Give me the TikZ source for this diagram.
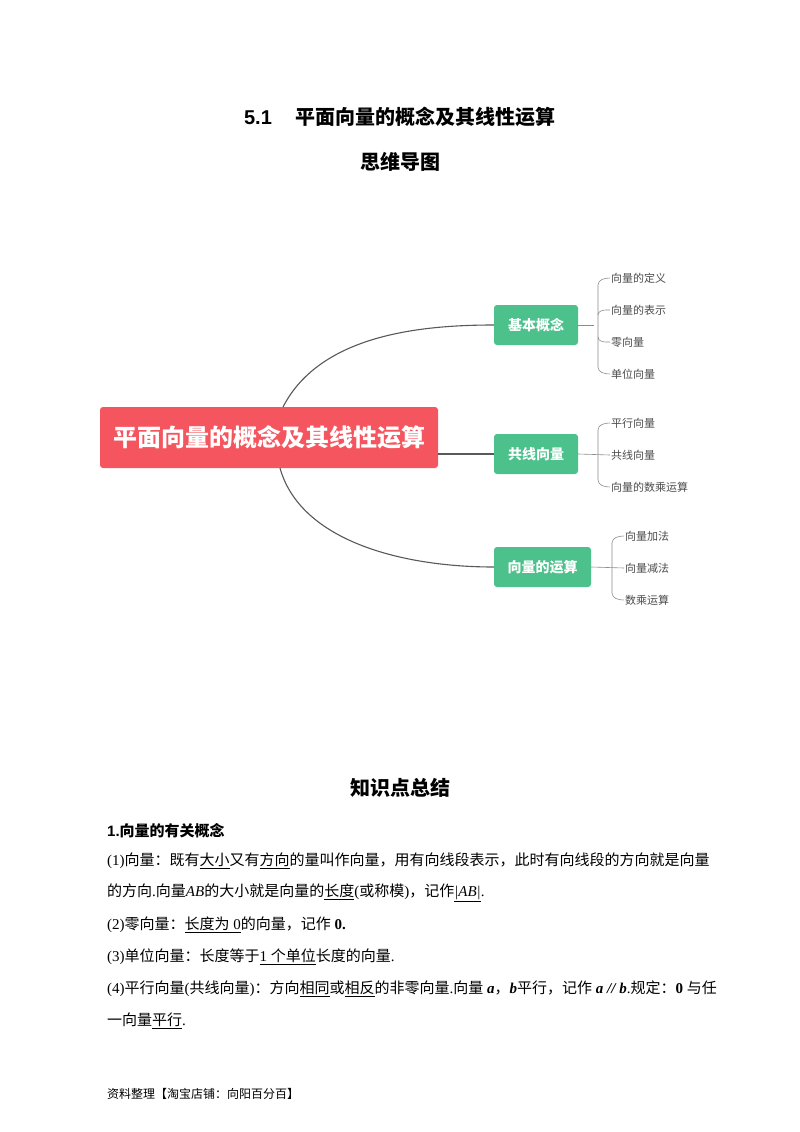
\documentclass[tikz,border=0pt]{standalone}
\usepackage{fontspec}
\setmainfont{Noto Sans CJK SC}
\newfontfamily\lat{Liberation Serif}
\newfontfamily\latsans{Liberation Sans}
\begin{document}
\begin{tikzpicture}[x=1pt,y=-1pt,
  rootbox/.style={fill=rootred,rounded corners=3pt,text=white,font=\bfseries\fontsize{24}{24}\selectfont,minimum width=338pt,minimum height=61pt},
  catbox/.style={fill=catgreen,rounded corners=3pt,text=white,font=\bfseries\fontsize{14}{14}\selectfont,minimum height=40pt,inner xsep=6pt},
  leaf/.style={anchor=west,text=black!70,font=\fontsize{11}{11}\selectfont,inner sep=1pt},
  conn/.style={draw=black!65,line width=1.1pt},
  brace/.style={draw=black!45,line width=0.6pt},
  bodyline/.style={anchor=west,font=\fontsize{15}{15}\selectfont,inner sep=0pt},
  heading/.style={font=\bfseries\fontsize{20}{20}\selectfont}]
\definecolor{rootred}{HTML}{F5555E}
\definecolor{catgreen}{HTML}{4DC18C}
\useasboundingbox (0,0) rectangle (800,1132);
\fill[white] (0,0) rectangle (800,1132);
% titles
\node[heading] (t1) at (400,117) {{\latsans 5.1}\hspace{24pt}平面向量的概念及其线性运算};
\node[heading] (t2) at (400,162) {思维导图};
\node[heading] (t3) at (400,788) {知识点总结};
% mindmap
\node[rootbox] (root) at (269,437.5) {平面向量的概念及其线性运算};
\node[catbox,minimum width=84pt] (c1) at (536,325) {基本概念};
\node[catbox,minimum width=84pt] (c2) at (536,454) {共线向量};
\node[catbox,minimum width=97pt] (c3) at (542.5,567) {向量的运算};
\coordinate (r1) at (283,407);
\coordinate (r3) at (280,468);
\draw[conn] (r1) .. controls (320,335) and (420,325) .. (c1.west);
\draw[conn] (r3) .. controls (300,540) and (400,567) .. (c3.west);
\draw[conn] (root.east |- c2.west) -- (c2.west);
% leaves
\node[leaf] (l1) at (610,278) {向量的定义};
\node[leaf] (l2) at (610,310) {向量的表示};
\node[leaf] (l3) at (610,342) {零向量};
\node[leaf] (l4) at (610,374) {单位向量};
\node[leaf] (l5) at (610,423) {平行向量};
\node[leaf] (l6) at (610,455) {共线向量};
\node[leaf] (l7) at (610,487) {向量的数乘运算};
\node[leaf] (l8) at (624,536) {向量加法};
\node[leaf] (l9) at (624,568) {向量减法};
\node[leaf] (l10) at (624,600) {数乘运算};
% braces
\draw[brace] (c1.east) -- (594,325);
\draw[brace] (l1.west) to[out=180,in=90] (598,285) -- (598,367) to[out=-90,in=180] (l4.west);
\draw[brace] (l2.west) -- ++(-4,0) to[out=180,in=90] (598,315);
\draw[brace] (l3.west) -- ++(-4,0) to[out=180,in=-90] (598,337);
\draw[brace] (c2.east) -- (l6.west);
\draw[brace] (l5.west) to[out=180,in=90] (598,430) -- (598,480) to[out=-90,in=180] (l7.west);
\draw[brace] (c3.east) -- (l9.west);
\draw[brace] (l8.west) to[out=180,in=90] (612,543) -- (612,593) to[out=-90,in=180] (l10.west);
% knowledge text
\node[anchor=west,font=\bfseries\fontsize{15}{15}\selectfont,inner sep=0pt] (h1) at (107,831) {{\latsans 1.}向量的有关概念};
\node[bodyline] (p1) at (107,861) {{\lat (1)}向量：既有\underline{大小}又有\underline{方向}的量叫作向量，用有向线段表示，此时有向线段的方向就是向量};
\node[bodyline] (p2) at (107,893) {的方向{\lat .}向量{\lat\itshape AB}的大小就是向量的\underline{长度}{\lat (}或称模{\lat )}，记作\underline{{\lat\itshape |AB|}}{\lat .}};
\node[bodyline] (p3) at (107,925) {{\lat (2)}零向量：\underline{长度为{\lat\ 0}}的向量，记作{\lat\bfseries\ 0.}};
\node[bodyline] (p4) at (107,957) {{\lat (3)}单位向量：长度等于\underline{{\lat 1 }个单位}长度的向量{\lat .}};
\node[bodyline] (p5) at (107,989) {{\lat (4)}平行向量{\lat (}共线向量{\lat )}：方向\underline{相同}或\underline{相反}的非零向量{\lat .}向量{\lat\bfseries\itshape\ a}，{\lat\bfseries\itshape b}平行，记作{\lat\bfseries\itshape\ a // b}{\lat .}规定：{\lat\bfseries 0 }与任};
\node[bodyline] (p6) at (107,1021) {一向量\underline{平行}{\lat .}};
\node[anchor=west,font=\fontsize{12}{12}\selectfont,inner sep=0pt] (foot) at (107,1094) {资料整理【淘宝店铺：向阳百分百】};
\end{tikzpicture}
\end{document}
